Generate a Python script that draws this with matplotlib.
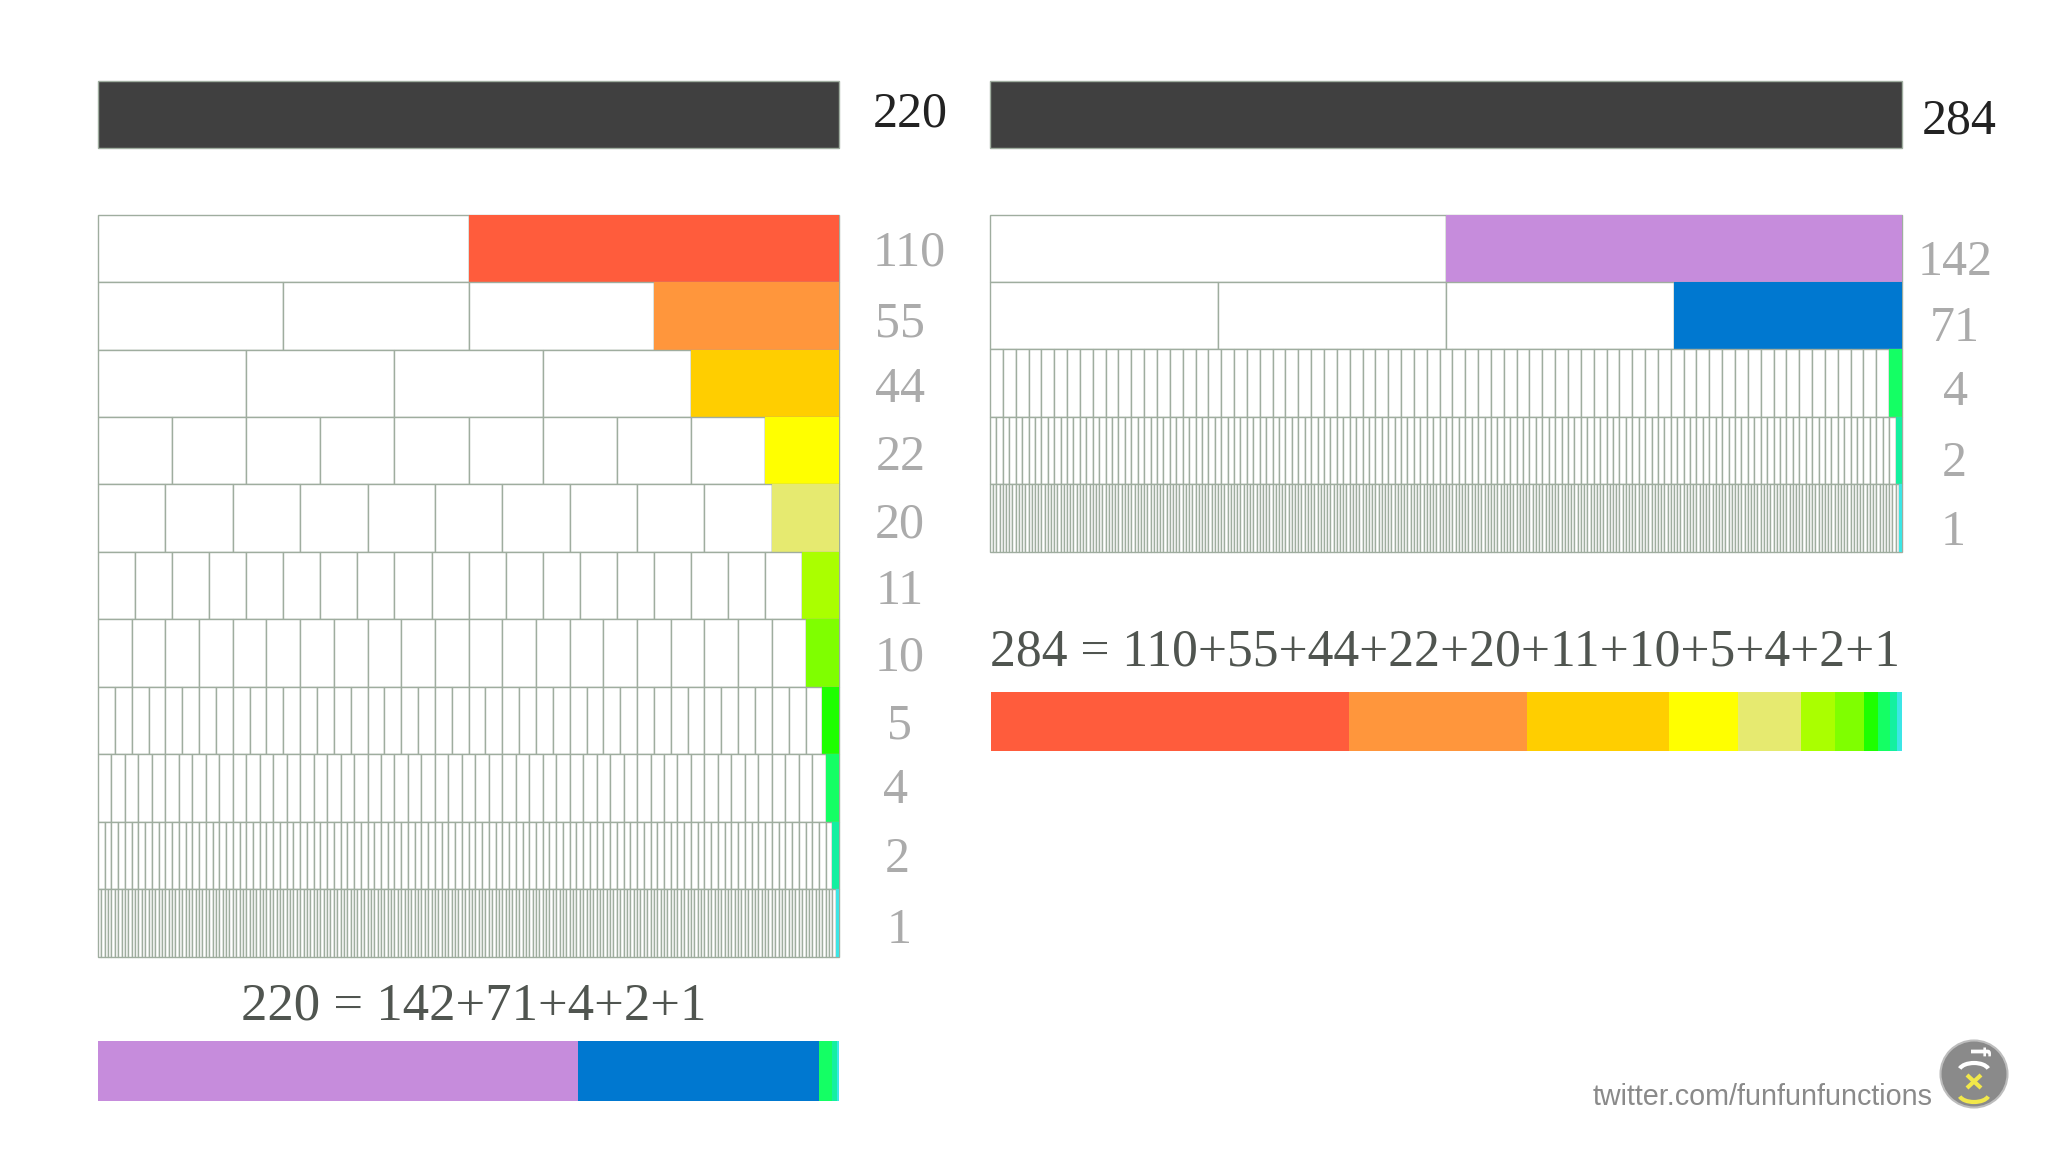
import numpy as np
import matplotlib
matplotlib.use("Agg")
import matplotlib.pyplot as plt
from matplotlib.patches import Circle, Arc

W, H = 2048, 1152
left_total = 220
right_total = 284
left_divisors = [110, 55, 44, 22, 20, 11, 10, 5, 4, 2, 1]
right_divisors = [142, 71, 4, 2, 1]
left_colors = ['#FF5C3C', '#FF963C', '#FFCE00', '#FFFF00', '#E6EA70', '#AAFF00',
               '#7FFF00', '#1EFF00', '#14FF64', '#14F0A0', '#3CE6E6']
right_colors = ['#C68CDC', '#0078D0', '#14FF64', '#14F0A0', '#3CE6E6']
# segment widths
right_strip_widths = [111.8, 55.4, 44.2, 21.5, 19.6, 10.6, 9.0, 4.4, 3.9, 2.0, 1.6]
left_strip_widths = [142.6, 71.6, 3.7, 1.4, 0.7]
left_eq = "220 = 142+71+4+2+1"
right_eq = "284 = 110+55+44+22+20+11+10+5+4+2+1"

LINE = '#9FAD9F'
SERIF = 'Liberation Serif'
fig = plt.figure(figsize=(W / 100, H / 100), dpi=100, facecolor='white')


def px_axes(x0, x1, y0, y1):
    a = fig.add_axes([x0 / W, 1 - y1 / H, (x1 - x0) / W, (y1 - y0) / H])
    a.axis('off')
    return a


def panel(total, divisors, colors, x0, x1):
    top, row = 214.6, 67.45
    a = px_axes(x0, x1, 80.6, top + row * len(divisors))
    offset = (top - 80.6) / row
    a.set_xlim(0, total)
    a.set_ylim(len(divisors), -offset)
    a.barh(-offset, total, height=1, left=0, align='edge', color='#404040',
           edgecolor=LINE, linewidth=1.0, clip_on=False)
    for i, (d, c) in enumerate(zip(divisors, colors)):
        lefts = np.arange(0, total, d)
        a.barh([i] * len(lefts), [d] * len(lefts), height=1, left=lefts, align='edge',
               color='white', edgecolor=LINE, linewidth=1.0, clip_on=False)
        a.barh(i, d, height=1, left=lefts[-1], align='edge', color=c, edgecolor='none', clip_on=False)
    return a


panel(left_total, left_divisors, left_colors, 98, 839.2)
panel(right_total, right_divisors, right_colors, 990, 1902)


def strip(total, parts, colors, x0, x1, y0, y1):
    a = px_axes(x0, x1, y0, y1)
    a.set_xlim(0, total)
    a.set_ylim(0, 1)
    cum = 0
    for p, c in zip(parts, colors):
        a.barh(0, p, height=1, left=cum, align='edge', color=c, edgecolor='none')
        cum += p


strip(left_total, left_strip_widths, right_colors, 97.5, 839, 1041, 1101)
strip(right_total, right_strip_widths, left_colors, 990.5, 1902, 692, 751)

ov = fig.add_axes([0, 0, 1, 1], facecolor='none')
ov.set_xlim(0, W)
ov.set_ylim(H, 0)
ov.axis('off')

GREY = '#ABABAB'
left_label_xy = [(909, 253), (900, 324), (900, 390), (901, 458), (900, 525), (900, 592),
                 (900, 658), (900, 726), (896, 791), (897, 860), (899, 931)]
right_label_xy = [(1955, 263), (1955, 329), (1955, 393), (1954, 464), (1953, 533)]
for d, (x, y) in zip(left_divisors, left_label_xy):
    ov.text(x, y, str(d), family=SERIF, fontsize=36, color=GREY, ha='center', va='center')
for d, (x, y) in zip(right_divisors, right_label_xy):
    ov.text(x, y, str(d), family=SERIF, fontsize=36, color=GREY, ha='center', va='center')
ov.text(910, 114, str(left_total), family=SERIF, fontsize=36, color='#222222', ha='center', va='center')
ov.text(1959, 121, str(right_total), family=SERIF, fontsize=36, color='#222222', ha='center', va='center')
ov.text(473.5, 1007, left_eq, family=SERIF, fontsize=38, color='#505550', ha='center', va='center')
ov.text(1445, 653, right_eq, family=SERIF, fontsize=37.2, color='#505550', ha='center', va='center')

ov.text(1593, 1105, "twitter.com/funfunfunctions", family='Liberation Sans', fontsize=20.7,
        color='#8A8A8A', ha='left', va='baseline')

# logo
cx, cy = 1974, 1074
ov.add_patch(Circle((cx, cy), 33.5, facecolor='#8A8A8A', edgecolor='#BDBDBD', lw=1.5))
ov.text(cx + 3, cy - 23, 'f', family='Liberation Sans', fontsize=20, fontweight='bold', color='white',
        rotation=-90, ha='center', va='center')
ov.add_patch(Arc((cx, cy - 3), 30, 16, theta1=190, theta2=350, color='white', lw=3))
ov.plot([cx - 7, cx + 7], [cy + 1, cy + 14], color='#F2E84A', lw=3, solid_capstyle='butt')
ov.plot([cx - 7, cx + 7], [cy + 14, cy + 1], color='#F2E84A', lw=3, solid_capstyle='butt')
ov.add_patch(Arc((cx, cy + 20), 30, 16, theta1=10, theta2=170, color='#F2E84A', lw=3))

fig.savefig('out.png', dpi=100, facecolor='white')
